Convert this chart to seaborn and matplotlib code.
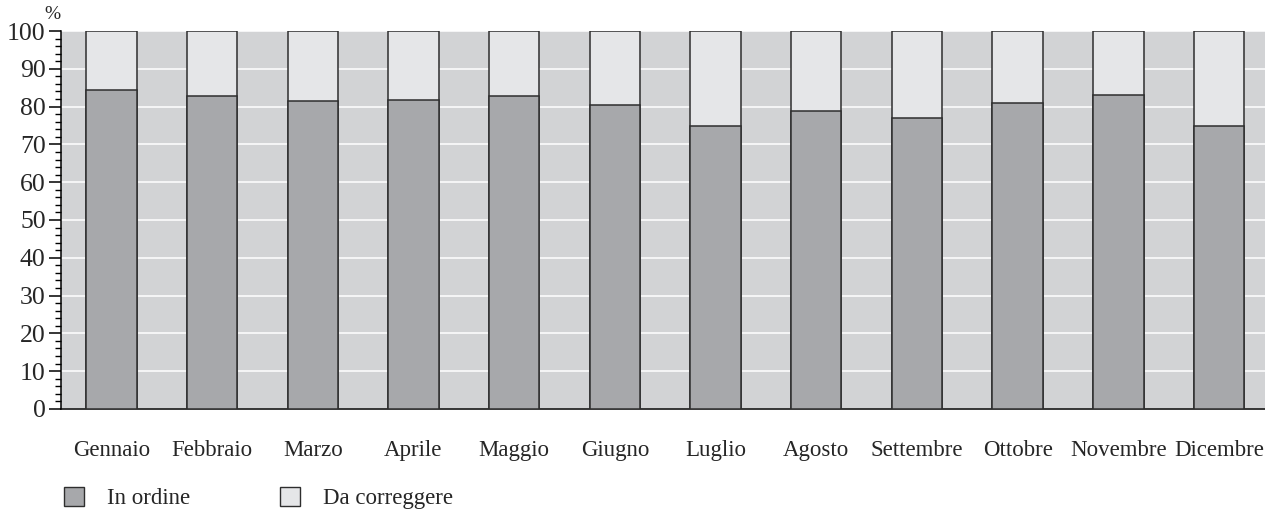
import pandas as pd
import seaborn as sns
import matplotlib.pyplot as plt
from matplotlib.patches import Patch
from matplotlib.ticker import MultipleLocator

mesi = ["Gennaio", "Febbraio", "Marzo", "Aprile", "Maggio", "Giugno",
        "Luglio", "Agosto", "Settembre", "Ottobre", "Novembre", "Dicembre"]
in_ordine = [84.4, 82.7, 81.4, 81.7, 82.8, 80.4,
             74.8, 78.8, 77.0, 81.0, 83.0, 74.8]
totale = [100] * 12

df = pd.DataFrame({"mese": mesi, "in_ordine": in_ordine, "totale": totale})

sns.set_style("white")
plt.rcParams["font.family"] = ["Liberation Serif", "DejaVu Serif"]

scuro = "#a7a8ab"
chiaro = "#e5e6e8"
sfondo = "#d2d3d5"
bordo = "#2e2e2e"

fig = plt.figure(figsize=(12.65, 5.17), dpi=100)
ax = fig.add_axes([0.0482, 0.209, 0.9518, 0.731])
ax.set_facecolor(sfondo)

# barre impilate: totale chiaro sotto, parte in ordine scura sopra
sns.barplot(ax=ax, data=df, x="mese", y="totale", color=chiaro, width=0.5,
            edgecolor=bordo, linewidth=1.1, saturation=1, zorder=3)
sns.barplot(ax=ax, data=df, x="mese", y="in_ordine", color=scuro, width=0.5,
            edgecolor=bordo, linewidth=1.1, saturation=1, zorder=3)

ax.set_ylim(0, 100)
ax.set_xlim(-0.5, 11.456)
ax.yaxis.set_major_locator(MultipleLocator(10))
ax.yaxis.set_minor_locator(MultipleLocator(2))
ax.grid(axis="y", color="white", linewidth=1.1, zorder=1)
ax.set_axisbelow(True)

for s in ["top", "right"]:
    ax.spines[s].set_visible(False)
ax.spines["left"].set_color("black")
ax.spines["bottom"].set_color("black")
ax.spines["left"].set_linewidth(1.1)
ax.spines["bottom"].set_linewidth(1.1)

ax.tick_params(axis="y", which="major", left=True, length=9, width=1.1,
               pad=2, labelsize=18.5, color="black")
ax.tick_params(axis="y", which="minor", left=True, length=4.5, width=1.0,
               color="black")
ax.tick_params(axis="x", bottom=False, pad=19, labelsize=16.5)
ax.set_xlabel("")
ax.set_ylabel("")

ax.annotate("%", xy=(-0.007, 1.02), xycoords="axes fraction",
            ha="center", va="bottom", fontsize=14)

handles = [Patch(facecolor=scuro, edgecolor=bordo, linewidth=1.0, label="In ordine"),
           Patch(facecolor=chiaro, edgecolor=bordo, linewidth=1.0, label="Da correggere")]
fig.legend(handles=handles, loc="lower left", bbox_to_anchor=(0.034, -0.025),
           ncol=2, frameon=False, fontsize=16.5, handlelength=0.9,
           handleheight=0.85, handletextpad=1.0, columnspacing=3.9)

fig.savefig("out.png", dpi=100)
plt.close(fig)
